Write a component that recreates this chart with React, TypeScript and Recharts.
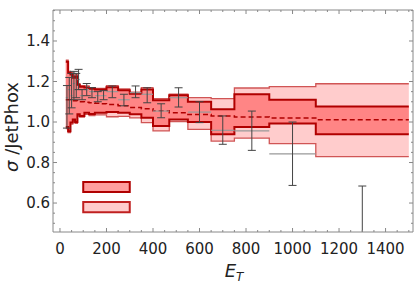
import { ComposedChart, Area, Line, Scatter, ErrorBar, XAxis, YAxis, ReferenceArea } from 'recharts'

// bin edges in E_T and band values per bin
const edges = [25, 35, 45, 55, 65, 75, 85, 105, 125, 150, 175, 200, 250, 300, 350, 400, 470, 550, 650, 750, 900, 1100, 1500]
const outerHi = [1.305, 1.25, 1.245, 1.225, 1.235, 1.19, 1.18, 1.178, 1.17, 1.166, 1.166, 1.18, 1.163, 1.147, 1.17, 1.115, 1.137, 1.12, 1.115, 1.168, 1.175, 1.189]
const innerHi = [1.298, 1.243, 1.235, 1.218, 1.225, 1.184, 1.174, 1.171, 1.164, 1.16, 1.16, 1.172, 1.157, 1.14, 1.16, 1.107, 1.132, 1.1, 1.063, 1.137, 1.11, 1.076]
const central = [1.11, 1.11, 1.105, 1.105, 1.105, 1.1, 1.1, 1.098, 1.095, 1.093, 1.09, 1.087, 1.08, 1.072, 1.065, 1.055, 1.046, 1.037, 1.03, 1.025, 1.02, 1.011]
const innerLo = [0.975, 0.955, 0.997, 1.013, 1.0, 1.038, 1.03, 1.046, 1.04, 1.046, 1.046, 1.05, 1.046, 1.038, 1.021, 0.98, 1.013, 1.0, 0.94, 0.975, 0.993, 0.939]
const outerLo = [0.968, 0.948, 0.99, 1.005, 0.993, 1.03, 1.024, 1.038, 1.032, 1.035, 1.035, 1.026, 1.028, 1.02, 0.997, 0.956, 1.002, 0.964, 0.906, 0.92, 0.893, 0.829]

// measured points (one per bin)
const pointE = [30, 40, 50, 60, 70, 80, 95, 115, 137.5, 162.5, 187.5, 225, 275, 325, 375, 435, 510, 600, 700, 825, 1000, 1300]
const pointV = [1.12, 1.16, 1.13, 1.19, 1.16, 1.21, 1.13, 1.16, 1.15, 1.13, 1.13, 1.15, 1.11, 1.145, 1.137, 1.054, 1.12, 1.049, 0.959, 0.956, 0.843, 0.4]
const pointLo = [0.97, 1.04, 1.07, 1.11, 1.12, 1.16, 1.11, 1.13, 1.12, 1.1, 1.11, 1.12, 1.08, 1.12, 1.095, 1.021, 1.074, 0.997, 0.89, 0.86, 0.687, 0.12]
const pointHi = [1.18, 1.22, 1.24, 1.25, 1.24, 1.26, 1.16, 1.19, 1.17, 1.15, 1.155, 1.178, 1.137, 1.178, 1.169, 1.09, 1.169, 1.1, 1.03, 1.054, 1.0, 0.684]

const xMajor = [0, 200, 400, 600, 800, 1000, 1200, 1400]
const yMajor = [0.6, 0.8, 1.0, 1.2, 1.4]

const xTicks: number[] = []
for (let v = 0; v <= 1500; v += 50) xTicks.push(v)
const yTicks: number[] = []
for (let i = 10; i <= 31; i++) yTicks.push(+(i * 0.05).toFixed(2))

const bandData = edges.map((e, i) => {
  const j = Math.min(i, outerHi.length - 1)
  return { e, outer: [outerLo[j], outerHi[j]], inner: [innerLo[j], innerHi[j]], mid: central[j] }
})

const pointData = pointE.map((e, i) => ({
  e,
  v: pointV[i],
  ey: [pointV[i] - pointLo[i], pointHi[i] - pointV[i]],
  ex: [e - edges[i], edges[i + 1] - e],
}))

const FRAME = '#888'
const TXT = '#222'
const FONT = '"DejaVu Sans", sans-serif'

// plot box in page pixels (used for clipping error bars that run off the frame)
const PLOT = { left: 53, top: 10, width: 360, height: 222 }

const isMajorX = (v: number) => xMajor.includes(v)
const isMajorY = (v: number) => yMajor.some(m => Math.abs(m - v) < 1e-6)

const BottomTick = ({ x, y, payload }: any) => {
  const major = isMajorX(payload.value)
  return (
    <g>
      <line x1={x} x2={x} y1={y} y2={y - (major ? 4 : 2)} stroke={FRAME} />
      {major && (
        <text x={x} y={y + 22} textAnchor="middle" fontSize={15} fontFamily={FONT} fill={TXT}>
          {payload.value}
        </text>
      )}
    </g>
  )
}

const TopTick = ({ x, y, payload }: any) => {
  const major = isMajorX(payload.value)
  return <line x1={x} x2={x} y1={y} y2={y + (major ? 4 : 2)} stroke={FRAME} />
}

const LeftTick = ({ x, y, payload }: any) => {
  const major = isMajorY(payload.value)
  return (
    <g>
      <line x1={x} x2={x + (major ? 4 : 2)} y1={y} y2={y} stroke={FRAME} />
      {major && (
        <text x={x - 3} y={y + 5} textAnchor="end" fontSize={15} fontFamily={FONT} fill={TXT}>
          {payload.value.toFixed(1)}
        </text>
      )}
    </g>
  )
}

const RightTick = ({ x, y, payload }: any) => {
  const major = isMajorY(payload.value)
  return <line x1={x} x2={x - (major ? 4 : 2)} y1={y} y2={y} stroke={FRAME} />
}

export default function App() {
  return (
    <div style={{ position: 'absolute', left: 0, top: 0, background: '#fff' }}>
      <style>{`.recharts-errorBars, .recharts-errorBar { clip-path: url(#plotClip); }`}</style>
      <svg width={0} height={0} style={{ position: 'absolute' }}>
        <defs>
          <clipPath id="plotClip">
            <rect x={PLOT.left} y={PLOT.top} width={PLOT.width} height={PLOT.height} />
          </clipPath>
        </defs>
      </svg>
      <ComposedChart width={415} height={284} data={bandData} margin={{ top: 9, right: 1, bottom: 22, left: 8 }}>
        <XAxis
          dataKey="e"
          type="number"
          domain={[-30, 1518]}
          allowDataOverflow
          ticks={xTicks}
          interval={0}
          tickSize={0}
          tickMargin={0}
          tickLine={false}
          tick={BottomTick}
          height={30}
          axisLine={{ stroke: FRAME }}
          label={{
            content: () => (
              <text x={234} y={277} textAnchor="middle" fontFamily={FONT} fill={TXT} fontStyle="italic" fontSize={18}>
                E<tspan fontSize={12} dy={4}>T</tspan>
              </text>
            ),
          }}
        />
        <XAxis
          xAxisId="t"
          orientation="top"
          dataKey="e"
          type="number"
          domain={[-30, 1518]}
          allowDataOverflow
          ticks={xTicks}
          interval={0}
          tickSize={0}
          tickMargin={0}
          tickLine={false}
          tick={TopTick}
          height={1}
          axisLine={{ stroke: FRAME }}
        />
        <YAxis
          dataKey="v"
          type="number"
          domain={[0.457, 1.553]}
          allowDataOverflow
          ticks={yTicks}
          interval={0}
          tickSize={0}
          tickMargin={0}
          tickLine={false}
          tick={LeftTick}
          width={45}
          axisLine={{ stroke: FRAME }}
          label={{
            content: () => (
              <text
                x={18}
                y={127}
                transform="rotate(-90 18 127)"
                textAnchor="middle"
                fontFamily={FONT}
                fill={TXT}
                fontSize={18}
              >
                <tspan fontStyle="italic">σ</tspan> /JetPhox
              </text>
            ),
          }}
        />
        <YAxis
          yAxisId="r"
          orientation="right"
          type="number"
          domain={[0.457, 1.553]}
          allowDataOverflow
          ticks={yTicks}
          interval={0}
          tickSize={0}
          tickMargin={0}
          tickLine={false}
          tick={RightTick}
          width={1}
          axisLine={{ stroke: FRAME }}
        />

        <Area
          type="stepAfter"
          dataKey="outer"
          fill="#ffcccc"
          fillOpacity={1}
          stroke="#d05555"
          strokeWidth={1.3}
          isAnimationActive={false}
          activeDot={false}
        />
        <Area
          type="stepAfter"
          dataKey="inner"
          fill="#ff8585"
          fillOpacity={1}
          stroke="#b00000"
          strokeWidth={2}
          isAnimationActive={false}
          activeDot={false}
        />
        <Line
          type="stepAfter"
          dataKey="mid"
          stroke="#b00000"
          strokeWidth={1.5}
          strokeDasharray="5 3"
          dot={false}
          activeDot={false}
          isAnimationActive={false}
        />
        <Scatter data={pointData} dataKey="v" shape={() => <g />} isAnimationActive={false}>
          <ErrorBar dataKey="ex" direction="x" width={0} stroke="#999" strokeWidth={1.2} />
          <ErrorBar dataKey="ey" direction="y" width={4} stroke="#444" strokeWidth={1} />
        </Scatter>

        <ReferenceArea x1={100} x2={300} y1={0.654} y2={0.704} fill="#ff9e9e" fillOpacity={1} stroke="#b00000" strokeWidth={2} />
        <ReferenceArea x1={100} x2={300} y1={0.555} y2={0.605} fill="#ffcccc" fillOpacity={1} stroke="#c02020" strokeWidth={2} />
      </ComposedChart>
    </div>
  )
}
